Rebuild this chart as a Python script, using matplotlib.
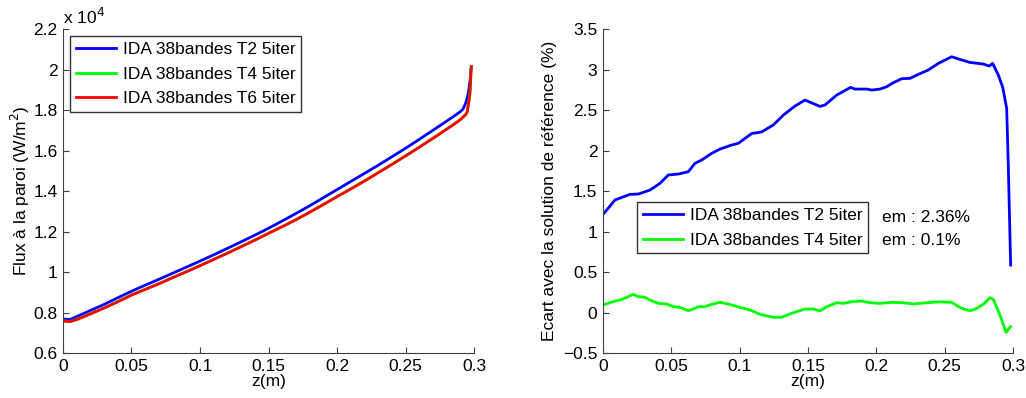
import numpy as np
import matplotlib
matplotlib.use("Agg")
import matplotlib.pyplot as plt

plt.rcParams['font.family'] = ['Liberation Sans', 'DejaVu Sans']

# --------------------------------------------------------------------------------
# Data - left panel : flux a la paroi (x 1e4 W/m2)
# --------------------------------------------------------------------------------

z_flux = [0.0, 0.005, 0.01, 0.02, 0.03, 0.04, 0.05, 0.06, 0.07, 0.08, 0.09,
          0.10, 0.11, 0.12, 0.13, 0.14, 0.15, 0.16, 0.17, 0.18, 0.19,
          0.20, 0.21, 0.22, 0.23, 0.24, 0.25, 0.26, 0.27, 0.28, 0.285,
          0.29, 0.292, 0.294, 0.295, 0.296, 0.297, 0.298]

flux_T2 = [0.768, 0.765, 0.780, 0.810, 0.840, 0.873, 0.905, 0.935, 0.964, 0.994, 1.024,
           1.054, 1.085, 1.117, 1.149, 1.182, 1.216, 1.252, 1.289, 1.327, 1.367,
           1.407, 1.447, 1.487, 1.527, 1.569, 1.611, 1.655, 1.700, 1.745, 1.768,
           1.792, 1.805, 1.835, 1.860, 1.890, 1.940, 2.015]

flux_T4 = [0.759, 0.756, 0.766, 0.794, 0.823, 0.854, 0.887, 0.915, 0.943, 0.973, 1.002,
           1.032, 1.063, 1.094, 1.126, 1.158, 1.192, 1.225, 1.259, 1.296, 1.334,
           1.373, 1.411, 1.450, 1.491, 1.532, 1.574, 1.617, 1.661, 1.706, 1.729,
           1.753, 1.766, 1.779, 1.791, 1.831, 1.881, 2.015]

flux_T6 = [0.758, 0.755, 0.765, 0.793, 0.822, 0.853, 0.886, 0.914, 0.942, 0.972, 1.001,
           1.031, 1.062, 1.093, 1.125, 1.157, 1.191, 1.224, 1.258, 1.295, 1.333,
           1.372, 1.410, 1.449, 1.490, 1.531, 1.573, 1.616, 1.660, 1.705, 1.728,
           1.752, 1.765, 1.778, 1.790, 1.830, 1.880, 2.015]

# --------------------------------------------------------------------------------
# Data - right panel : ecart avec la solution de reference (%)
# --------------------------------------------------------------------------------

z_ecart_T2 = [0.0010, 0.0088, 0.0198, 0.0259, 0.0344, 0.0417, 0.0478, 0.0551, 0.0624,
              0.0673, 0.0722, 0.0795, 0.0856, 0.0941, 0.0990, 0.1088, 0.1161, 0.1246,
              0.1320, 0.1405, 0.1478, 0.1588, 0.1624, 0.1710, 0.1812, 0.1844, 0.1930,
              0.1966, 0.2027, 0.2076, 0.2124, 0.2186, 0.2246, 0.2307, 0.2380, 0.2454,
              0.2551, 0.2612, 0.2685, 0.2783, 0.2827, 0.2851, 0.2893, 0.2925, 0.2954,
              0.2966, 0.2983]

ecart_T2 = [1.23, 1.39, 1.459, 1.463, 1.512, 1.595, 1.698, 1.710, 1.738,
            1.842, 1.883, 1.965, 2.018, 2.068, 2.089, 2.210, 2.230, 2.315,
            2.438, 2.549, 2.623, 2.545, 2.562, 2.685, 2.780, 2.759, 2.759,
            2.747, 2.759, 2.788, 2.837, 2.887, 2.891, 2.940, 2.994, 3.076,
            3.158, 3.125, 3.088, 3.068, 3.043, 3.076, 2.932, 2.780, 2.520,
            1.800, 0.586]

z_ecart_T4 = [0.0015, 0.0088, 0.0124, 0.0173, 0.0222, 0.0259, 0.0307, 0.0344, 0.0405,
              0.0466, 0.0515, 0.0563, 0.0624, 0.0661, 0.0698, 0.0746, 0.0795, 0.0856,
              0.0917, 0.1002, 0.1076, 0.1149, 0.1246, 0.1307, 0.1380, 0.1478, 0.1539,
              0.1588, 0.1637, 0.1710, 0.1758, 0.1820, 0.1893, 0.1954, 0.2027, 0.2112,
              0.2198, 0.2271, 0.2368, 0.2466, 0.2551, 0.2624, 0.2685, 0.2722, 0.2783,
              0.2832, 0.2856, 0.2905, 0.2949, 0.2983]

ecart_T4 = [0.101, 0.142, 0.154, 0.187, 0.225, 0.196, 0.188, 0.154, 0.113,
            0.105, 0.072, 0.064, 0.022, 0.043, 0.072, 0.072, 0.101, 0.126,
            0.105, 0.064, 0.031, -0.023, -0.059, -0.059, -0.010, 0.043, 0.043,
            0.020, 0.072, 0.121, 0.113, 0.133, 0.142, 0.121, 0.113, 0.126,
            0.121, 0.105, 0.121, 0.133, 0.126, 0.052, 0.022, 0.040, 0.101,
            0.183, 0.163, -0.031, -0.245, -0.175]

labels_flux = ["IDA 38bandes T2 5iter", "IDA 38bandes T4 5iter", "IDA 38bandes T6 5iter"]
labels_ecart = ["IDA 38bandes T2 5iter", "IDA 38bandes T4 5iter"]
em_texts = ["em : 2.36%", "em : 0.1%"]

# --------------------------------------------------------------------------------
# Figure
# --------------------------------------------------------------------------------

fig = plt.figure(figsize=(10.26, 3.98), dpi=100)
ax1 = fig.add_axes([0.0614, 0.113, 0.4006, 0.814])
ax2 = fig.add_axes([0.5877, 0.113, 0.3996, 0.814])

fs = 12.5
leg_kw = dict(fontsize=fs, frameon=True, fancybox=False, edgecolor='black',
              handlelength=2.3, borderpad=0.33, labelspacing=0.55,
              handletextpad=0.4, borderaxespad=0)

ax1.plot(z_flux, flux_T2, color='#0000ff', lw=2, label=labels_flux[0])
ax1.plot(z_flux, flux_T4, color='#00ff00', lw=2, label=labels_flux[1])
ax1.plot(z_flux, flux_T6, color='#ff0000', lw=2, label=labels_flux[2])
ax1.set_xlim(0, 0.3)
ax1.set_ylim(0.6, 2.2)
ax1.set_xticks([0, 0.05, 0.1, 0.15, 0.2, 0.25, 0.3])
ax1.set_xticklabels(['0', '0.05', '0.1', '0.15', '0.2', '0.25', '0.3'])
ax1.set_yticks([0.6, 0.8, 1, 1.2, 1.4, 1.6, 1.8, 2, 2.2])
ax1.set_yticklabels(['0.6', '0.8', '1', '1.2', '1.4', '1.6', '1.8', '2', '2.2'])
ax1.set_xlabel('z(m)', fontsize=fs, labelpad=0)
ax1.set_ylabel('Flux à la paroi (W/m$^2$)', fontsize=fs, labelpad=1)
ax1.text(0.0, 1.005, 'x 10$^4$', transform=ax1.transAxes, fontsize=fs, ha='left', va='bottom')
leg1 = ax1.legend(loc='upper left', bbox_to_anchor=(0.017, 0.978), **leg_kw)
leg1.get_frame().set_linewidth(1.0)

ax2.plot(z_ecart_T2, ecart_T2, color='#0000ff', lw=2, label=labels_ecart[0])
ax2.plot(z_ecart_T4, ecart_T4, color='#00ff00', lw=2, label=labels_ecart[1])
ax2.set_xlim(0, 0.3)
ax2.set_ylim(-0.5, 3.5)
ax2.set_xticks([0, 0.05, 0.1, 0.15, 0.2, 0.25, 0.3])
ax2.set_xticklabels(['0', '0.05', '0.1', '0.15', '0.2', '0.25', '0.3'])
ax2.set_yticks([-0.5, 0, 0.5, 1, 1.5, 2, 2.5, 3, 3.5])
ax2.set_yticklabels(['\u22120.5', '0', '0.5', '1', '1.5', '2', '2.5', '3', '3.5'])
ax2.set_xlabel('z(m)', fontsize=fs, labelpad=0)
ax2.set_ylabel('Ecart avec la solution de référence (%)', fontsize=fs, labelpad=4)
leg2 = ax2.legend(loc='upper left', bbox_to_anchor=(0.083, 0.466), **leg_kw)
leg2.get_frame().set_linewidth(1.0)
ax2.text(0.680, 0.417, em_texts[0], transform=ax2.transAxes, fontsize=fs, va='center')
ax2.text(0.680, 0.346, em_texts[1], transform=ax2.transAxes, fontsize=fs, va='center')

for ax in (ax1, ax2):
    ax.spines['top'].set_visible(False)
    ax.spines['right'].set_visible(False)
    ax.spines['left'].set_color('#404040')
    ax.spines['bottom'].set_color('#404040')
    ax.tick_params(direction='in', length=4, labelsize=fs, color='#404040', pad=4)

fig.savefig('out.png', dpi=100)
